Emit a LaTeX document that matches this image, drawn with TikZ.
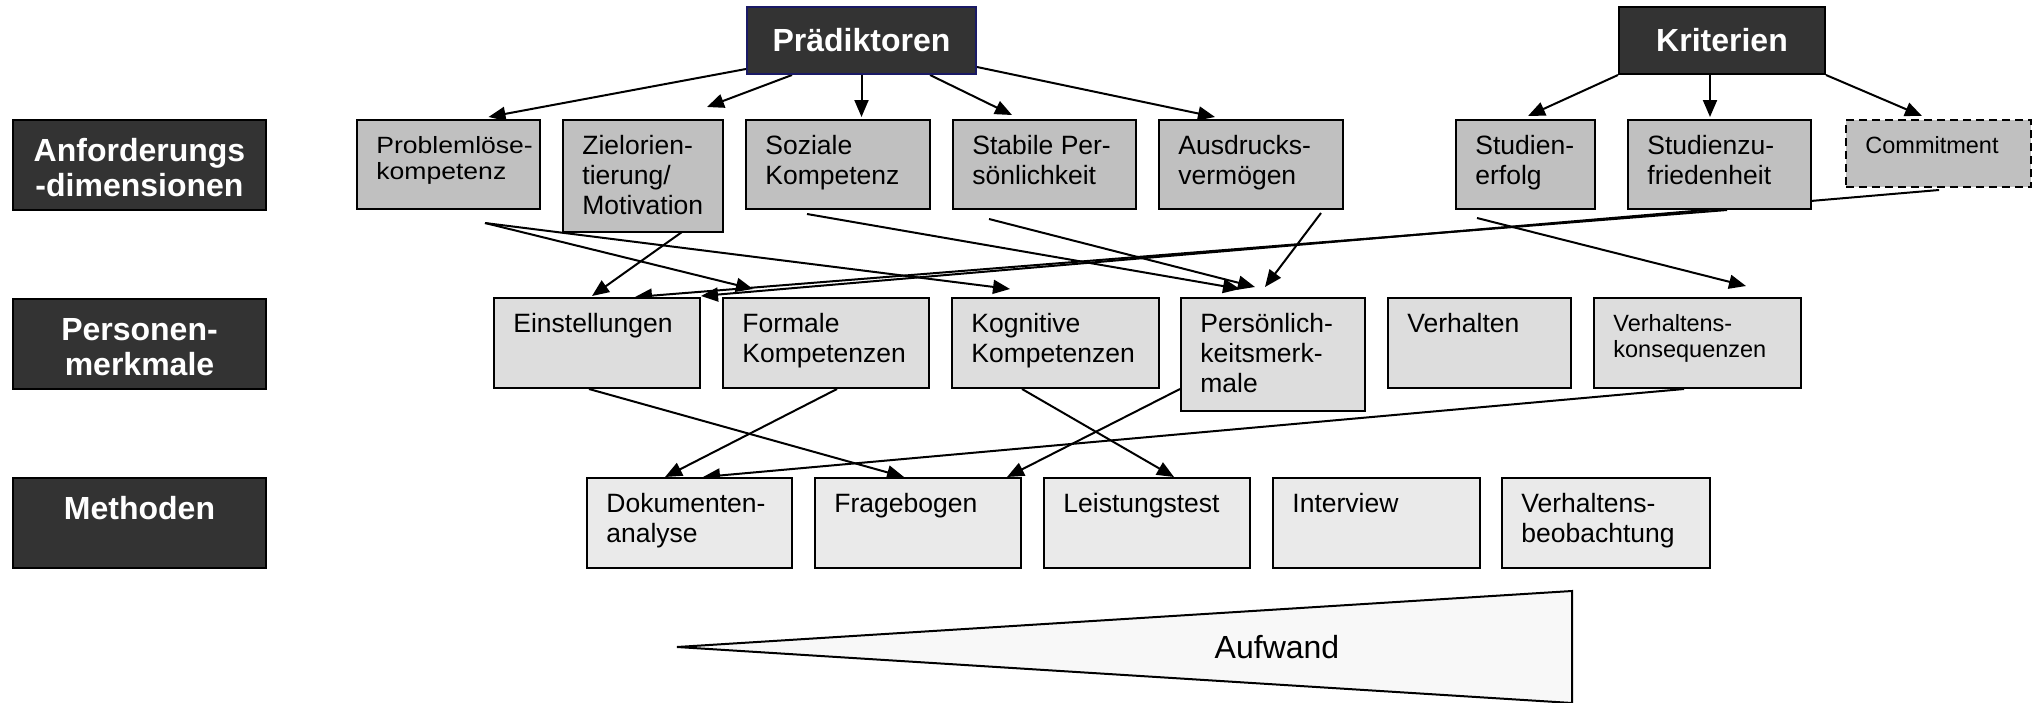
\documentclass[tikz,border=0pt]{standalone}
\usepackage{fontspec}
\setmainfont{Liberation Sans}
\usetikzlibrary{arrows.meta,fit,backgrounds}

\definecolor{hdrgray}{HTML}{333333}
\definecolor{lvlone}{HTML}{C0C0C0}
\definecolor{lvltwo}{HTML}{DDDDDD}
\definecolor{lvlthree}{HTML}{EAEAEA}
\definecolor{wedgefill}{HTML}{F8F8F8}
\definecolor{navyline}{HTML}{1A1A66}

\newcommand\fnorm{\fontsize{13.25}{15}\selectfont}
\newcommand\fsmall{\fontsize{11.75}{13}\selectfont}
\newcommand\fhead{\fontsize{16}{17.5}\selectfont\bfseries}
\newcommand\fwedge{\fontsize{16}{18}\selectfont}
\newcommand\wide[1]{\scalebox{1.13}[1]{#1}}

\tikzset{
  cell/.style={draw=black, line width=1pt, inner sep=0pt},
  hdr/.style={cell, fill=hdrgray},
  one/.style={cell, fill=lvlone},
  two/.style={cell, fill=lvltwo},
  three/.style={cell, fill=lvlthree},
  txt/.style={anchor=north west, inner sep=0pt, align=left, font=\fnorm},
  smalltxt/.style={txt, font=\fsmall},
  hdrtxt/.style={anchor=north, inner sep=0pt, align=center, text=white, font=\fhead},
  toptxt/.style={inner sep=0pt, text=white, font=\fhead},
  arr/.style={line width=1pt, -{Triangle[length=8.5pt,width=7pt]}},
}

% box from its top-left and bottom-right corner (in px)
\newcommand\cellbox[6]{\node[#2, fit={(#3,#4) (#5,#6)}] (#1) {};}

\begin{document}
\begin{tikzpicture}[x=0.5pt, y=-0.5pt]
\useasboundingbox (0,0) rectangle (2040,702);

% row labels
\cellbox{labA}{hdr}{13}{120}{266}{210}
\cellbox{labP}{hdr}{13}{299}{266}{389}
\cellbox{labM}{hdr}{13}{478}{266}{568}
\node[hdrtxt] (labAt) at ([shift={(0,17.5)}]labA.north) {\strut Anforderungs\\-dimensionen};
\node[hdrtxt] (labPt) at ([shift={(0,17.5)}]labP.north) {\strut Personen-\\merkmale};
\node[hdrtxt] (labMt) at ([shift={(0,17.5)}]labM.north) {\strut Methoden};

% top headings
\cellbox{prae}{hdr, draw=navyline}{747}{7}{976}{74}
\cellbox{krit}{hdr}{1619}{7}{1825}{74}
\node[toptxt] (praet) at (prae.center) {Prädiktoren};
\node[toptxt] (kritt) at (krit.center) {Kriterien};

% requirement dimensions
\cellbox{prob}{one}{357}{120}{540}{209}
\cellbox{ziel}{one}{563}{120}{723}{232}
\cellbox{soz}{one}{746}{120}{930}{209}
\cellbox{stab}{one}{953}{120}{1136}{209}
\cellbox{ausd}{one}{1159}{120}{1343}{209}
\cellbox{serf}{one}{1456}{120}{1595}{209}
\cellbox{szuf}{one}{1628}{120}{1811}{209}
\cellbox{comm}{one, dashed, dash pattern=on 4pt off 2.5pt}{1846}{120}{2031}{187}
\node[smalltxt] (probt) at ([shift={(20,16)}]prob.north west) {\strut\wide{Problemlöse-}\\\wide{kompetenz}};
\node[txt] (zielt) at ([shift={(20,14)}]ziel.north west) {\strut Zielorien-\\tierung/\\Motivation};
\node[txt] (sozt) at ([shift={(20,14)}]soz.north west) {\strut Soziale\\Kompetenz};
\node[txt] (stabt) at ([shift={(20,14)}]stab.north west) {\strut Stabile Per-\\sönlichkeit};
\node[txt] (ausdt) at ([shift={(20,14)}]ausd.north west) {\strut Ausdrucks-\\vermögen};
\node[txt] (serft) at ([shift={(20,14)}]serf.north west) {\strut Studien-\\erfolg};
\node[txt] (szuft) at ([shift={(20,14)}]szuf.north west) {\strut Studienzu-\\friedenheit};
\node[smalltxt] (commt) at ([shift={(20,16)}]comm.north west) {\strut Commitment};

% person characteristics
\cellbox{einst}{two}{494}{298}{700}{388}
\cellbox{form}{two}{723}{298}{929}{388}
\cellbox{kogn}{two}{952}{298}{1159}{388}
\cellbox{pers}{two}{1181}{298}{1365}{411}
\cellbox{verh}{two}{1388}{298}{1571}{388}
\cellbox{vkon}{two}{1594}{298}{1801}{388}
\node[txt] (einstt) at ([shift={(20,14)}]einst.north west) {\strut Einstellungen};
\node[txt] (formt) at ([shift={(20,14)}]form.north west) {\strut Formale\\Kompetenzen};
\node[txt] (kognt) at ([shift={(20,14)}]kogn.north west) {\strut Kognitive\\Kompetenzen};
\node[txt] (perst) at ([shift={(20,14)}]pers.north west) {\strut Persönlich-\\keitsmerk-\\male};
\node[txt] (verht) at ([shift={(20,14)}]verh.north west) {\strut Verhalten};
\node[smalltxt] (vkont) at ([shift={(20,16)}]vkon.north west) {\strut Verhaltens-\\konsequenzen};

% methods
\cellbox{dok}{three}{587}{478}{792}{568}
\cellbox{frag}{three}{815}{478}{1021}{568}
\cellbox{leis}{three}{1044}{478}{1250}{568}
\cellbox{intv}{three}{1273}{478}{1480}{568}
\cellbox{vbeo}{three}{1502}{478}{1710}{568}
\node[txt] (dokt) at ([shift={(20,14)}]dok.north west) {\strut Dokumenten-\\analyse};
\node[txt] (fragt) at ([shift={(20,14)}]frag.north west) {\strut Fragebogen};
\node[txt] (leist) at ([shift={(20,14)}]leis.north west) {\strut Leistungstest};
\node[txt] (intvt) at ([shift={(20,14)}]intv.north west) {\strut Interview};
\node[txt] (vbeot) at ([shift={(20,14)}]vbeo.north west) {\strut Verhaltens-\\beobachtung};

% effort wedge
\draw[line width=1pt, fill=wedgefill] (677,647) -- (1572,591) -- (1572,703) -- cycle;
\node[font=\fwedge, inner sep=0pt] (aufw) at (1277,647) {Aufwand};

\begin{pgfonlayer}{background}
% headings to dimensions
\draw[arr] ([shift={(0,-6)}]prae.south west) -- ([shift={(40,-2)}]prob.north);
\draw[arr] ([shift={(-69.5,0)}]prae.south) -- ([shift={(-17,-12)}]ziel.north east);
\draw[arr] (prae.south) -- ([shift={(23.5,-2)}]soz.north);
\draw[arr] ([shift={(68.5,0)}]prae.south) -- ([shift={(-32.5,-4)}]stab.north);
\draw[arr] ([shift={(0,-8)}]prae.south east) -- ([shift={(-36,-2)}]ausd.north);
\draw[arr] (krit.south west) -- ([shift={(2.5,-3)}]serf.north);
\draw[arr] ([shift={(-12,0)}]krit.south) -- ([shift={(-9.5,-2)}]szuf.north);
\draw[arr] (krit.south east) -- ([shift={(-16.5,-3)}]comm.north);

% dimensions to person characteristics
\draw[arr] ([shift={(36.5,13)}]prob.south) -- ([shift={(-73,-8)}]form.north);
\draw[arr] ([shift={(36.5,13)}]prob.south) -- ([shift={(-45.5,-8)}]kogn.north);
\draw[arr] ([shift={(39,-1)}]ziel.south) -- ([shift={(-5,-1)}]einst.north);
\draw[arr] ([shift={(-31,4)}]soz.south) -- ([shift={(-33,-8)}]pers.north);
\draw[arr] ([shift={(-55.5,9)}]stab.south) -- ([shift={(-18,-10)}]pers.north);
\draw[arr] ([shift={(70,3)}]ausd.south) -- ([shift={(-8,-10)}]pers.north);
\draw[arr] ([shift={(7.5,0)}]szuf.south) -- ([shift={(38,0)}]einst.north);
\draw[arr] ([shift={(0.5,2)}]comm.south) -- ([shift={(0,-1)}]einst.north east);
\draw[arr] ([shift={(-48.5,8)}]serf.south) -- ([shift={(48.5,-11)}]vkon.north);

% person characteristics to methods
\draw[arr] ([shift={(-8,0)}]einst.south) -- ([shift={(-14,0)}]frag.north);
\draw[arr] ([shift={(11,0)}]form.south) -- ([shift={(-24.5,0)}]dok.north);
\draw[arr] ([shift={(-33.5,0)}]kogn.south) -- ([shift={(27,0)}]leis.north);
\draw[arr] ([shift={(0,-23)}]pers.south west) -- ([shift={(-15,0)}]frag.north east);
\draw[arr] ([shift={(-13.5,0)}]vkon.south) -- ([shift={(13.5,0)}]dok.north);
\end{pgfonlayer}
\end{tikzpicture}
\end{document}
